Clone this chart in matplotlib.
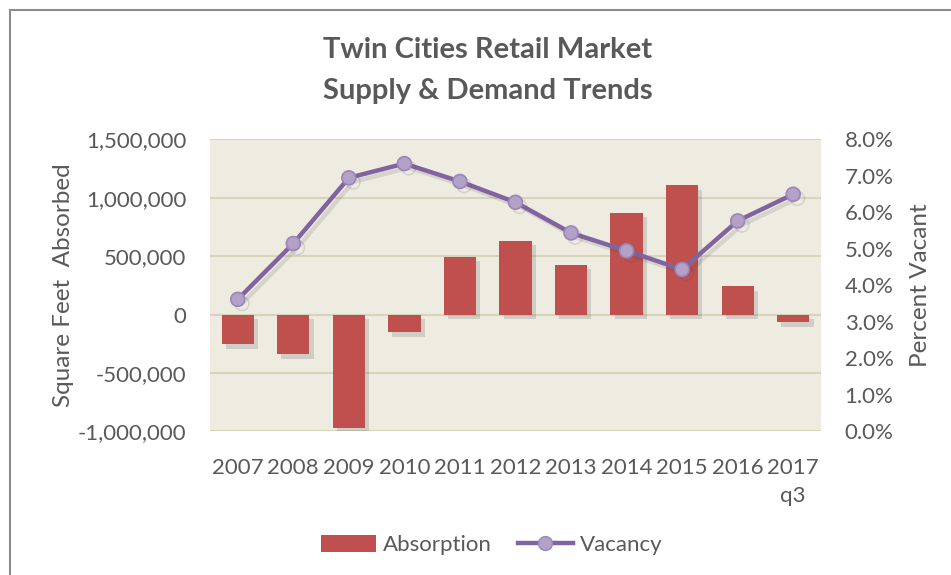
import matplotlib
matplotlib.use('Agg')
import matplotlib.pyplot as plt
import matplotlib.patheffects as pe
from matplotlib.ticker import FuncFormatter, MultipleLocator
from matplotlib.lines import Line2D
from matplotlib.patches import Patch, Rectangle

years = ['2007', '2008', '2009', '2010', '2011', '2012', '2013', '2014', '2015', '2016', '2017\nq3']
absorption = [-255000, -340000, -968000, -152000, 493000, 630000, 425000, 870000, 1107000, 242000, -66000]
vacancy = [3.62, 5.15, 6.95, 7.34, 6.85, 6.28, 5.44, 4.95, 4.44, 5.77, 6.50]

BAR = '#C0504D'
LINE = '#8064A2'
MARKER = '#B3A2C7'
TEXT = '#595959'
FONT = 'Lato'

plt.rcParams['font.family'] = [FONT, 'DejaVu Sans']

fig = plt.figure(figsize=(9.51, 5.75), dpi=100)
ax = fig.add_axes([0.2208, 0.2496, 0.6425, 0.5078])
ax.set_facecolor('#EEECE1')

x = list(range(len(years)))
shadow = [pe.SimplePatchShadow(offset=(3, -3), shadow_rgbFace='#555555', alpha=0.2), pe.Normal()]
ax.bar(x, absorption, width=0.58, color=BAR, zorder=3, path_effects=shadow)

ax.set_xlim(-0.5, len(years) - 0.5)
ax.set_ylim(-1000000, 1500000)
ax.yaxis.set_major_locator(MultipleLocator(500000))
ax.yaxis.set_major_formatter(FuncFormatter(lambda v, p: f'{v:,.0f}'))
ax.grid(True, axis='y', color='#D8D4BC', linewidth=1.5, zorder=0)
ax.axhline(0, color='#D9D9D9', linewidth=1.5, zorder=1)
ax.set_xticks(x)
ax.set_xticklabels(years, linespacing=1.5)
ax.tick_params(axis='both', length=0, labelsize=16, colors=TEXT)
ax.tick_params(axis='y', pad=17)
ax.tick_params(axis='x', pad=19)
ax.set_ylabel('Square Feet  Absorbed', fontsize=17.5, color=TEXT, labelpad=3)
for s in ax.spines.values():
    s.set_visible(False)

ax2 = ax.twinx()
ax2.plot(x, vacancy, color=LINE, linewidth=3.2, marker='o', markersize=10,
         markerfacecolor=MARKER, markeredgecolor='#9B85BB', markeredgewidth=1.2, zorder=5,
         path_effects=[pe.SimpleLineShadow(offset=(3, -3), shadow_color='#444444', alpha=0.14), pe.Normal()])
ax2.set_ylim(0, 8)
ax2.yaxis.set_major_locator(MultipleLocator(1))
ax2.yaxis.set_major_formatter(FuncFormatter(lambda v, p: f'{v:.1f}%'))
ax2.tick_params(axis='y', length=0, labelsize=16, colors=TEXT, pad=17)
ax2.set_ylabel('Percent Vacant', fontsize=17.5, color=TEXT, labelpad=12)
for s in ax2.spines.values():
    s.set_visible(False)

fig.text(0.513, 0.878, 'Twin Cities Retail Market\nSupply & Demand Trends', ha='center', va='center',
         fontsize=21, fontweight='bold', color=TEXT, linespacing=1.7)

handles = [Patch(facecolor=BAR, edgecolor='none'),
           Line2D([0], [0], color=LINE, linewidth=3.2, marker='o', markersize=10,
                  markerfacecolor=MARKER, markeredgecolor='#9B85BB')]
fig.legend(handles, ['Absorption', 'Vacancy'], loc='center', bbox_to_anchor=(0.517, 0.052),
           ncol=2, frameon=False, fontsize=16, labelcolor=TEXT, handlelength=2.5,
           handletextpad=0.3, columnspacing=1.15, handleheight=0.8)

# chart frame
fig.add_artist(Rectangle((0.010, -0.05), 1.2, 1.0326, transform=fig.transFigure,
                         fill=False, edgecolor='#8C8C8C', linewidth=1.5))

fig.savefig('out.png', dpi=100)
